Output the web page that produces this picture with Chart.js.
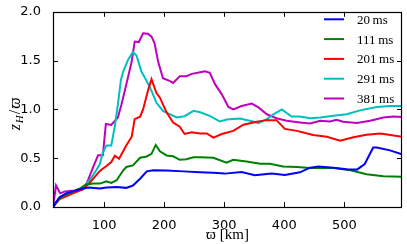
<!DOCTYPE html>
<html>
<head>
<meta charset="utf-8">
<script src="https://cdn.jsdelivr.net/npm/chart.js@4/dist/chart.umd.min.js"></script>
<style>
  html, body { margin: 0; padding: 0; background: #fff; }
  canvas { display: block; }
</style>
</head>
<body>
<canvas id="chart" width="407" height="244"></canvas>
<script>
// === data ===

const xTicks = [100, 200, 300, 400, 500];
const yTicks = [0, 0.5, 1.0, 1.5, 2.0];

const labels = ["20\u2009ms", "111\u2009ms", "201\u2009ms", "291\u2009ms", "381\u2009ms"];
const colors = ["#0000ff", "#008000", "#ff0000", "#00bfbf", "#bf00bf"];

// 20 ms
const blueX = [15, 20, 26, 37, 54, 65, 75, 93, 104, 121, 137, 148, 160, 171, 182, 204, 232, 260, 282, 301, 329, 351, 379, 401, 426, 443, 457, 482, 504, 521, 534, 548, 554, 576, 596];
const blueY = [0, 0.05, 0.10, 0.14, 0.17, 0.19, 0.20, 0.19, 0.20, 0.205, 0.196, 0.22, 0.29, 0.365, 0.376, 0.375, 0.365, 0.356, 0.35, 0.342, 0.358, 0.325, 0.342, 0.328, 0.355, 0.403, 0.416, 0.403, 0.386, 0.383, 0.44, 0.61, 0.61, 0.58, 0.54];

// 111 ms
const greenX = [15, 26, 37, 50, 60, 71, 82, 93, 104, 112, 121, 132, 137, 148, 160, 171, 179, 186, 193, 204, 215, 226, 237, 249, 260, 282, 304, 315, 337, 360, 376, 398, 421, 443, 482, 510, 537, 565, 596];
const greenY = [0, 0.09, 0.13, 0.16, 0.19, 0.23, 0.24, 0.24, 0.264, 0.247, 0.274, 0.376, 0.41, 0.426, 0.505, 0.518, 0.545, 0.636, 0.57, 0.528, 0.52, 0.484, 0.49, 0.51, 0.51, 0.505, 0.454, 0.484, 0.467, 0.444, 0.444, 0.416, 0.41, 0.40, 0.40, 0.376, 0.335, 0.315, 0.31];

// 201 ms
const redX = [15, 26, 37, 48, 65, 75, 82, 93, 104, 112, 118, 125, 137, 146, 151, 160, 165, 173, 179, 187, 193, 204, 215, 226, 234, 246, 260, 271, 282, 296, 315, 332, 354, 371, 387, 401, 421, 448, 471, 493, 515, 537, 560, 596];
const redY = [0, 0.08, 0.11, 0.14, 0.18, 0.24, 0.29, 0.37, 0.42, 0.46, 0.525, 0.494, 0.63, 0.72, 0.90, 0.925, 1.0, 1.19, 1.31, 1.17, 1.12, 0.97, 0.866, 0.822, 0.748, 0.765, 0.754, 0.754, 0.71, 0.748, 0.78, 0.843, 0.873, 0.89, 0.89, 0.80, 0.78, 0.738, 0.72, 0.68, 0.714, 0.74, 0.754, 0.72];

// 291 ms
const cyanX = [15, 26, 37, 50, 65, 76, 87, 93, 98, 104, 112, 118, 123, 128, 132, 140, 148, 154, 162, 171, 179, 187, 198, 210, 221, 234, 249, 260, 276, 293, 304, 326, 348, 357, 371, 382, 396, 412, 426, 443, 460, 482, 504, 526, 554, 576, 596];
const cyanY = [0, 0.10, 0.14, 0.16, 0.20, 0.274, 0.376, 0.44, 0.56, 0.63, 0.63, 0.83, 1.05, 1.30, 1.39, 1.51, 1.587, 1.553, 1.39, 1.29, 1.19, 1.07, 0.985, 0.95, 0.917, 0.93, 0.985, 0.97, 0.934, 0.876, 0.896, 0.907, 0.876, 0.86, 0.90, 0.95, 1.00, 0.927, 0.927, 0.91, 0.917, 0.934, 0.95, 0.99, 1.025, 1.035, 1.035];

// 381 ms
const magentaX = [15, 20, 27, 35, 51, 62, 71, 82, 90, 98, 103, 112, 123, 129, 137, 146, 151, 158, 165, 173, 179, 184, 190, 198, 210, 215, 226, 237, 246, 260, 268, 276, 285, 296, 307, 315, 329, 346, 357, 371, 387, 404, 426, 443, 460, 476, 487, 498, 521, 543, 565, 582, 596];
const magentaY = [0, 0.22, 0.14, 0.16, 0.17, 0.19, 0.24, 0.41, 0.53, 0.53, 0.85, 0.84, 0.917, 1.05, 1.256, 1.49, 1.695, 1.69, 1.78, 1.775, 1.746, 1.68, 1.49, 1.32, 1.29, 1.27, 1.34, 1.34, 1.364, 1.38, 1.39, 1.375, 1.256, 1.154, 1.025, 1.0, 1.035, 1.06, 1.02, 0.95, 0.91, 0.883, 0.866, 0.855, 0.883, 0.876, 0.893, 0.873, 0.86, 0.883, 0.917, 0.927, 0.923];

const seriesX = [blueX, greenX, redX, cyanX, magentaX];
const seriesY = [blueY, greenY, redY, cyanY, magentaY];

const SANS = "'DejaVu Sans', sans-serif";
const SERIF = "'Liberation Serif', 'DejaVu Serif', serif";

// zip x/y arrays into points
function points(xs, ys) {
  return xs.map((x, i) => ({ x, y: ys[i] }));
}

// frame, inward ticks, legend and y label, drawn like matplotlib does
const mplLook = {
  id: "mplLook",
  afterDraw(chart) {
    const { ctx, chartArea: a, scales } = chart;
    const L = 5;
    ctx.save();
    ctx.strokeStyle = "#000";
    ctx.lineWidth = 1;

    ctx.beginPath();
    scales.x.ticks.forEach(t => {
      const px = Math.round(scales.x.getPixelForValue(t.value)) + 0.5;
      ctx.moveTo(px, a.bottom); ctx.lineTo(px, a.bottom - L);
      ctx.moveTo(px, a.top); ctx.lineTo(px, a.top + L);
    });
    scales.y.ticks.forEach(t => {
      const py = Math.round(scales.y.getPixelForValue(t.value)) + 0.5;
      ctx.moveTo(a.left, py); ctx.lineTo(a.left + L, py);
      ctx.moveTo(a.right, py); ctx.lineTo(a.right - L, py);
    });
    ctx.stroke();

    ctx.lineWidth = 1.2;
    ctx.strokeRect(Math.round(a.left) + 0.5, Math.round(a.top) + 0.5,
      Math.round(a.right - a.left) - 1, Math.round(a.bottom - a.top));

    // legend, upper right inside the axes
    ctx.font = "13px " + SERIF;
    ctx.textBaseline = "middle";
    ctx.textAlign = "left";
    chart.data.datasets.forEach((ds, i) => {
      const y = a.top + 7.5 + i * 19.8;
      ctx.strokeStyle = ds.borderColor;
      ctx.lineWidth = 2;
      ctx.beginPath();
      ctx.moveTo(a.right - 78, y);
      ctx.lineTo(a.right - 58, y);
      ctx.stroke();
      ctx.fillStyle = "#000";
      ctx.fillText(ds.label, a.right - 45, y + 1);
    });

    // y axis label  z_H / ϖ
    ctx.translate(15, (a.top + a.bottom) / 2 + 4);
    ctx.rotate(-Math.PI / 2);
    ctx.fillStyle = "#000";
    ctx.textBaseline = "alphabetic";
    const parts = [
      { t: "z", f: "italic 16px " + SERIF, dy: 0 },
      { t: "H", f: "italic 11px " + SERIF, dy: 3 },
      { t: "/", f: "16px " + SERIF, dy: 0 },
      { t: "\u03d6", f: "italic 16px " + SERIF, dy: 0 },
    ];
    let w = 0;
    parts.forEach(p => { ctx.font = p.f; w += ctx.measureText(p.t).width + 1; });
    let cx = -w / 2;
    parts.forEach(p => {
      ctx.font = p.f;
      ctx.fillText(p.t, cx, 5 + p.dy);
      cx += ctx.measureText(p.t).width + 1;
    });
    ctx.restore();
  },
};

new Chart(document.getElementById("chart"), {
  type: "line",
  data: {
    datasets: seriesX.map((xs, i) => ({
      label: labels[i],
      data: points(xs, seriesY[i]),
      borderColor: colors[i],
      backgroundColor: colors[i],
    })),
  },
  options: {
    responsive: false,
    animation: false,
    layout: { padding: { top: 10, right: 5, left: 0, bottom: 0 } },
    elements: {
      point: { radius: 0 },
      line: { borderWidth: 2, tension: 0 },
    },
    plugins: {
      legend: { display: false },
      tooltip: { enabled: false },
    },
    scales: {
      x: {
        type: "linear",
        min: 15,
        max: 596,
        afterBuildTicks: s => { s.ticks = xTicks.map(v => ({ value: v })); },
        afterFit: s => { s.height = 37; },
        grid: { display: false },
        border: { display: false },
        ticks: { color: "#000", font: { family: SANS, size: 13 }, padding: 3, maxRotation: 0 },
        title: {
          display: true,
          text: "\u03d6 [km]",
          color: "#000",
          font: { family: SERIF, size: 15 },
          padding: { top: 0, bottom: 0 },
        },
      },
      y: {
        type: "linear",
        min: 0,
        max: 2,
        afterBuildTicks: s => { s.ticks = yTicks.map(v => ({ value: v })); },
        afterFit: s => { s.width = 53; },
        grid: { display: false },
        border: { display: false },
        ticks: {
          color: "#000",
          font: { family: SANS, size: 13 },
          padding: 4,
          callback: v => v.toFixed(1),
        },
      },
    },
  },
  plugins: [mplLook],
});
</script>
</body>
</html>
